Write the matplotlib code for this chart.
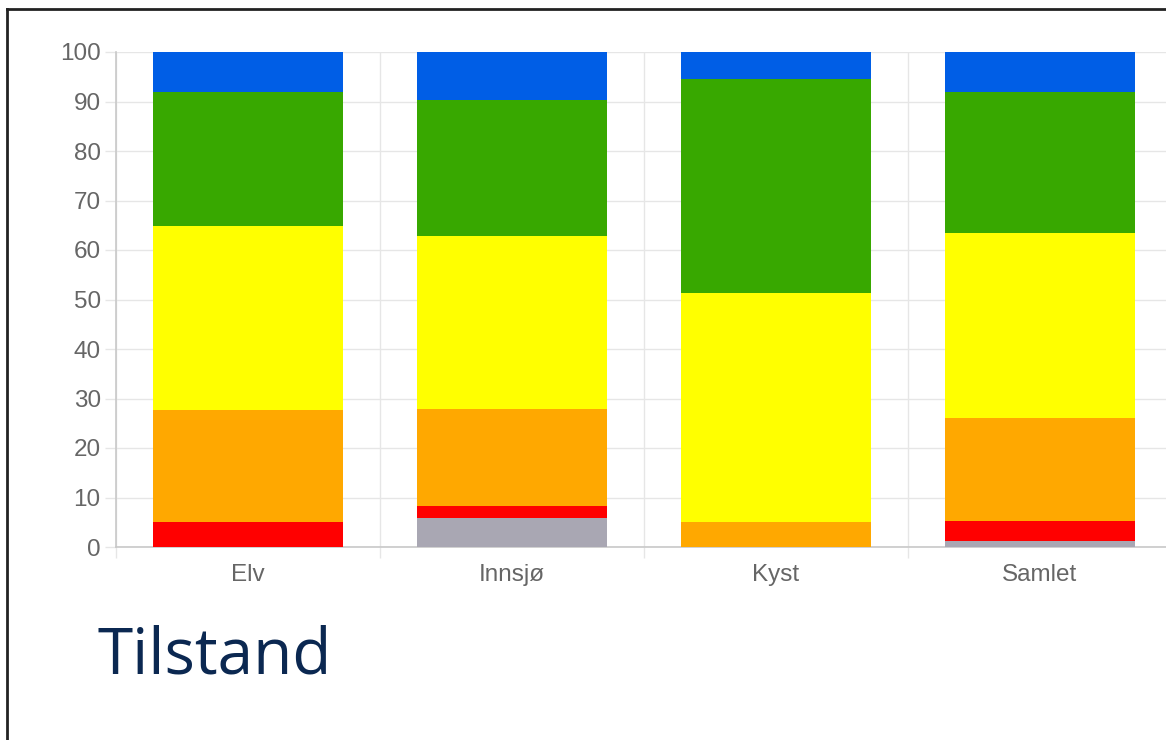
import numpy as np
import matplotlib.pyplot as plt
from matplotlib.lines import Line2D

# Share of water bodies per condition class (percent), stacked bottom-up
categories = ["Elv", "Innsjø", "Kyst", "Samlet"]
ukjent = [0.0, 5.9, 0.0, 1.2]
svaert_daarlig = [5.0, 2.4, 0.0, 4.0]
daarlig = [22.7, 19.6, 5.0, 20.9]
moderat = [37.1, 34.9, 46.3, 37.3]
god = [27.1, 27.5, 43.2, 28.5]
svaert_god = [8.1, 9.7, 5.5, 8.1]

series = [ukjent, svaert_daarlig, daarlig, moderat, god, svaert_god]
colors = ["#a9a7b3", "#ff0000", "#ffa800", "#ffff00", "#38a800", "#005ee6"]
y_ticks = list(range(0, 101, 10))

W, H = 1166, 740
fig = plt.figure(figsize=(W / 100, H / 100), dpi=100)

# axes extends a little past the right edge, like the cropped screenshot
ax = fig.add_axes([116 / W, (H - 547) / H, (1172 - 116) / W, (547 - 52) / H])

x = np.arange(len(categories))
bottom = np.zeros(len(categories))
for vals, col in zip(series, colors):
    ax.bar(x, vals, width=0.72, bottom=bottom, color=col, zorder=3)
    bottom += np.array(vals)

ax.set_xlim(-0.5, len(categories) - 0.5)
ax.set_ylim(0, 100)
ax.set_yticks(y_ticks)
ax.set_xticks(x)
ax.set_xticklabels(categories)
ax.set_xticks(np.arange(-0.5, len(categories), 1.0), minor=True)

grid_col = "#e6e6e6"
ax.grid(True, axis="y", which="major", color=grid_col, lw=1, zorder=0)
ax.grid(True, axis="x", which="minor", color=grid_col, lw=1, zorder=0)
ax.tick_params(axis="x", which="major", length=0, pad=12, labelsize=17.5, labelcolor="#666666")
ax.tick_params(axis="x", which="minor", length=8, color=grid_col, width=1)
ax.tick_params(axis="y", length=8, color=grid_col, width=1, pad=3, labelsize=17.5, labelcolor="#666666")

for s in ["top", "right"]:
    ax.spines[s].set_visible(False)
for s in ["left", "bottom"]:
    ax.spines[s].set_color("#c8c8c8")
    ax.spines[s].set_linewidth(1.2)

for lab in ax.get_xticklabels() + ax.get_yticklabels():
    lab.set_family("Liberation Sans")

fig.text(97 / W, (H - 673) / H, "Tilstand", fontsize=46, color="#0b2851",
         family="Open Sans", ha="left", va="baseline")

# frame of the screenshot (left and top edges only)
fig.add_artist(Line2D([7 / W, 7 / W], [0, (H - 9) / H], transform=fig.transFigure,
                      color="#222222", lw=2))
fig.add_artist(Line2D([7 / W, 1], [(H - 9) / H, (H - 9) / H], transform=fig.transFigure,
                      color="#222222", lw=2))

plt.savefig("out.png", dpi=100)
